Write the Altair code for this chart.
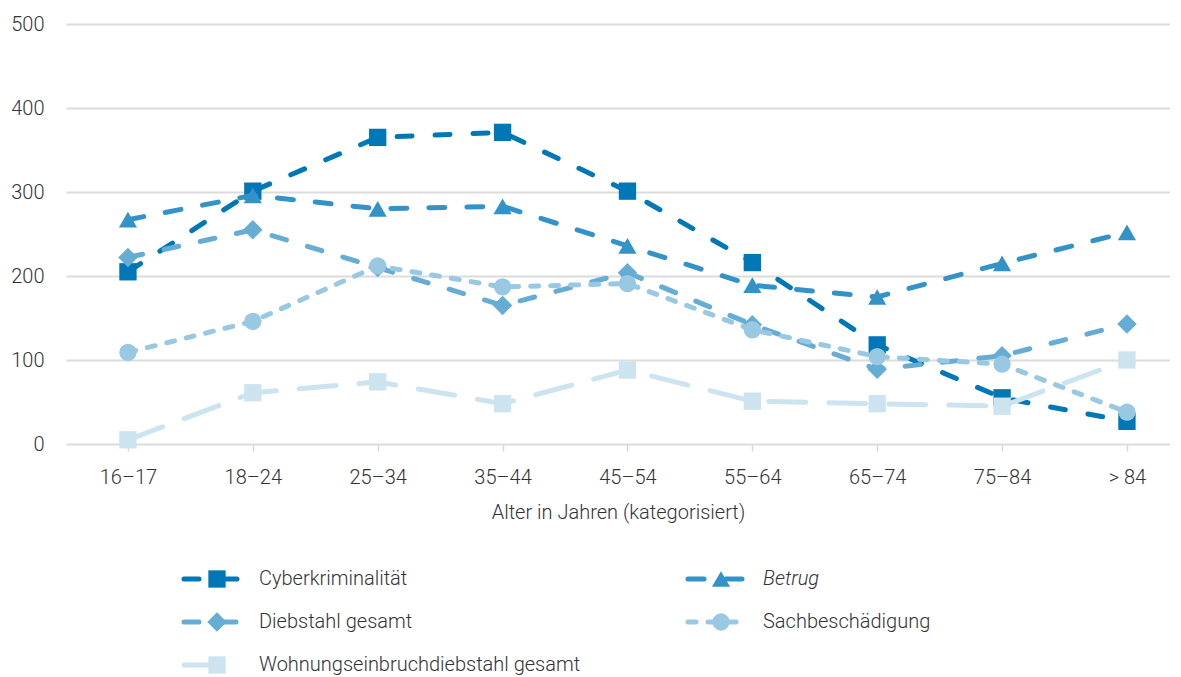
import altair as alt
import pandas as pd

ages = ["16–17", "18–24", "25–34", "35–44", "45–54", "55–64", "65–74", "75–84", "> 84"]
series = ["Cyberkriminalität", "Betrug", "Diebstahl gesamt", "Sachbeschädigung",
          "Wohnungseinbruchdiebstahl gesamt"]

cyber = [205, 301, 365, 371, 301, 216, 118, 55, 27]
betrug = [267, 296, 280, 283, 236, 189, 175, 215, 252]
diebstahl = [222, 255, 210, 165, 204, 142, 89, 105, 143]
sach = [109, 146, 212, 187, 191, 136, 104, 95, 38]
wohnung = [5, 61, 74, 48, 88, 51, 48, 45, 100]
all_values = [cyber, betrug, diebstahl, sach, wohnung]

y_ticks = [0, 100, 200, 300, 400, 500]

colors = ["#0077b7", "#3393c8", "#66add6", "#99c8e2", "#cce3f0"]
shapes = ["square", "triangle-up", "diamond", "circle", "square"]
sizes = [300, 330, 380, 300, 300]
dashes = [[15, 23], [16, 22], [15, 22], [8, 12], [37, 23]]
italic = [False, True, False, False, False]

FONT = "Roboto"
FW = 300
FS = 20
TXT = "#333333"
W = 1104
H = 420

rows = []
for name, vals in zip(series, all_values):
    for a, v in zip(ages, vals):
        rows.append({"series": name, "age": a, "value": v})
df = pd.DataFrame(rows)

xs = alt.Scale(domain=ages, padding=0.4204, align=0.59)
ys = alt.Scale(domain=[0, 500], nice=False, zero=True)
x_axis = alt.Axis(title="Alter in Jahren (kategorisiert)", labelAngle=0, grid=False,
                  domain=False, ticks=True, tickSize=7, tickWidth=1.5, tickColor="#d6d6d6",
                  labelPadding=16, titlePadding=15)
y_axis = alt.Axis(title=None, values=y_ticks, grid=True, gridColor="#dcdcdc", gridWidth=2,
                  domain=False, ticks=False, labelPadding=22)

base = alt.Chart(df).encode(
    x=alt.X("age:N", sort=ages, scale=xs, axis=x_axis),
    y=alt.Y("value:Q", scale=ys, axis=y_axis),
)

layers = []
for i, name in enumerate(series):
    sub = base.transform_filter(alt.datum.series == name)
    layers.append(sub.mark_line(color=colors[i], strokeWidth=5, strokeDash=dashes[i],
                                strokeCap="round"))
    layers.append(sub.mark_point(shape=shapes[i], filled=True, size=sizes[i],
                                 color=colors[i], opacity=1, strokeWidth=0))
main = alt.layer(*layers).properties(width=W, height=H)

leg_df = pd.DataFrame({
    "series": series,
    "col": [i % 2 for i in range(len(series))],
    "row": [i // 2 for i in range(len(series))],
})
lx = alt.Scale(domain=[0, 1], range=[118, 622])
ly = alt.Scale(domain=[0, 2], range=[0, 86])
lbase = alt.Chart(leg_df).encode(
    x=alt.X("col:Q", scale=lx, axis=None),
    y=alt.Y("row:Q", scale=ly, axis=None),
)
leg_layers = []
for i, name in enumerate(series):
    sub = lbase.transform_filter(alt.datum.series == name)
    leg_layers.append(sub.mark_rule(color=colors[i], strokeWidth=5, strokeDash=dashes[i],
                                    strokeCap="round", x2Offset=60).encode(x2="col:Q"))
    leg_layers.append(sub.mark_point(shape=shapes[i], filled=True, size=sizes[i],
                                     color=colors[i], opacity=1, strokeWidth=0, xOffset=33))
    leg_layers.append(sub.mark_text(align="left", baseline="middle", xOffset=75, font=FONT,
                                    fontSize=FS, fontWeight=FW, color=TXT,
                                    fontStyle="italic" if italic[i] else "normal")
                      .encode(text="series:N"))
legend = alt.layer(*leg_layers).properties(width=W, height=86)

chart = alt.vconcat(main, legend, spacing=135, bounds="flush").properties(
    padding={"left": 2, "top": 6, "right": 0, "bottom": 0}
).configure_view(stroke=None).configure_axis(
    labelFont=FONT, titleFont=FONT, labelFontSize=FS, titleFontSize=FS,
    labelFontWeight=FW, titleFontWeight=FW,
    labelColor=TXT, titleColor=TXT
)

chart.save("out.html", embed_options={"renderer": "svg", "actions": False})
